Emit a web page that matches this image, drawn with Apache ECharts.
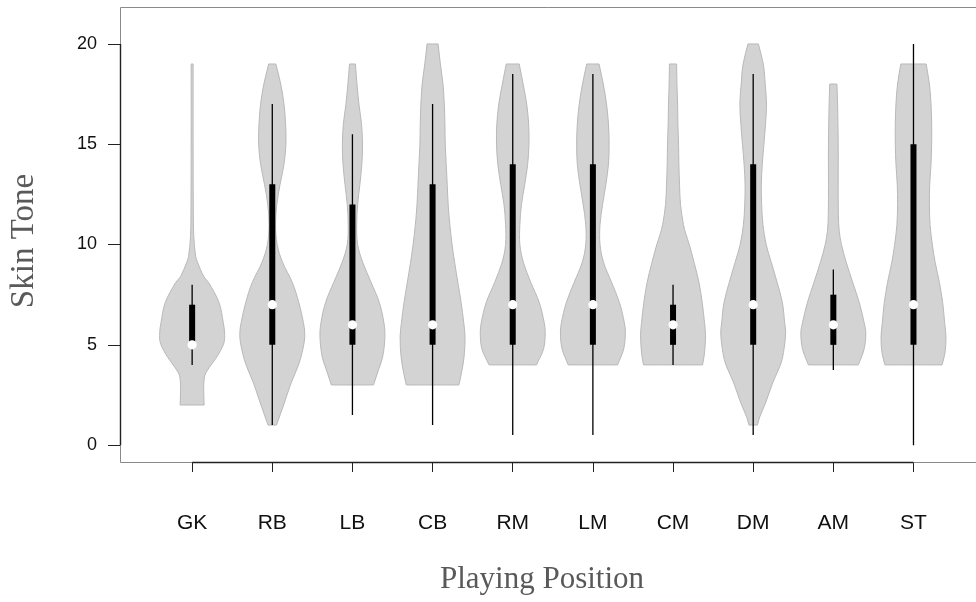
<!DOCTYPE html>
<html>
<head>
<meta charset="utf-8">
<script src="https://cdn.jsdelivr.net/npm/echarts@6/dist/echarts.min.js"></script>
<style>
  html, body { margin: 0; padding: 0; background: #fff; }
  #chart { width: 976px; height: 602px; }
</style>
</head>
<body>
<div id="chart"></div>
<script>
// Playing positions (x categories)
const positions = ["GK", "RB", "LB", "CB", "RM", "LM", "CM", "DM", "AM", "ST"];

// Box statistics per position
const lowerQuartile = [5, 5, 5, 5, 5, 5, 5, 5, 5, 5];
const upperQuartile = [7, 13, 12, 13, 14, 14, 7, 14, 7.5, 15];
const medians = [5, 7, 6, 6, 7, 7, 6, 7, 6, 7];
const whiskerLow = [4, 1, 1.5, 1, 0.5, 0.5, 4, 0.5, 3.75, 0];
const whiskerHigh = [8, 17, 15.5, 17, 18.5, 18.5, 8, 18.5, 8.75, 20];

// Violin outlines: skin tone levels and relative density (max = 1)
const violinLevels = [
    [2, 2.8, 3.3, 3.6, 4.1, 4.5, 5.1, 5.6, 6.1, 7.1, 8.1, 8.4, 9.1, 9.4, 10.4, 12, 15, 19],
    [1, 2.1, 3.1, 4.1, 5.1, 5.6, 6.1, 7.1, 8.1, 9.1, 10, 11, 12, 13, 14, 15, 16, 17, 18, 19],
    [3, 3.6, 4.4, 5.4, 6.1, 7.1, 8.1, 9.1, 10, 11, 12, 13, 14, 15, 16, 17, 18, 19],
    [3, 3.6, 4.4, 5.4, 6.1, 7.1, 8.1, 9.1, 10, 11, 12, 13, 14, 15, 16, 17, 18, 19, 20],
    [4, 4.8, 5.6, 6.1, 7.1, 8.1, 9.1, 10, 11, 12, 13, 14, 15, 16, 17, 18, 19],
    [4, 4.8, 5.6, 6.1, 7.1, 8.1, 9.1, 10, 11, 12, 13, 14, 15, 16, 17, 18, 19],
    [4, 4.6, 5.5, 6.1, 7.1, 8.1, 9.1, 10, 10.5, 11, 12, 13, 14, 15, 16, 17, 18, 19],
    [1, 1.4, 2.1, 3.1, 4.1, 4.8, 5.6, 6.1, 7.1, 8.1, 9.1, 10, 11, 12, 13, 14, 15, 16, 17, 18, 19, 20],
    [4, 4.8, 5.6, 6.1, 7.1, 8.1, 9.1, 10, 10.7, 11.5, 13, 15, 17, 18],
    [4, 4.6, 5.4, 6.1, 7.1, 8.1, 9.1, 10, 11, 12, 13, 14, 15, 16, 17, 18, 19]
];
const violinDensity = [
    [0.37, 0.355, 0.37, 0.42, 0.63, 0.8, 0.98, 1.0, 0.96, 0.83, 0.51, 0.36, 0.17, 0.11, 0.05, 0.035, 0.03, 0.03],
    [0.13, 0.37, 0.58, 0.83, 0.98, 1.0, 0.96, 0.82, 0.62, 0.32, 0.15, 0.1, 0.14, 0.24, 0.36, 0.42, 0.41, 0.36, 0.26, 0.11],
    [0.65, 0.77, 0.93, 1.0, 0.97, 0.83, 0.58, 0.32, 0.16, 0.13, 0.16, 0.23, 0.29, 0.31, 0.28, 0.2, 0.14, 0.09],
    [0.81, 0.89, 0.97, 1.0, 0.96, 0.88, 0.78, 0.68, 0.6, 0.53, 0.48, 0.45, 0.42, 0.39, 0.38, 0.36, 0.32, 0.24, 0.17],
    [0.73, 0.95, 1.0, 0.97, 0.82, 0.56, 0.33, 0.22, 0.22, 0.27, 0.37, 0.46, 0.5, 0.49, 0.43, 0.32, 0.2],
    [0.76, 0.95, 1.0, 0.97, 0.82, 0.58, 0.33, 0.22, 0.22, 0.3, 0.4, 0.48, 0.5, 0.48, 0.42, 0.32, 0.19],
    [0.91, 0.97, 1.0, 0.97, 0.9, 0.8, 0.65, 0.5, 0.4, 0.32, 0.23, 0.2, 0.18, 0.17, 0.15, 0.14, 0.12, 0.11],
    [0.13, 0.2, 0.38, 0.6, 0.86, 0.95, 1.0, 0.97, 0.9, 0.74, 0.56, 0.4, 0.3, 0.26, 0.25, 0.28, 0.33, 0.38, 0.41, 0.37, 0.31, 0.16],
    [0.77, 0.95, 1.0, 0.95, 0.8, 0.6, 0.4, 0.25, 0.18, 0.155, 0.15, 0.15, 0.13, 0.11],
    [0.88, 0.97, 1.0, 0.96, 0.9, 0.8, 0.67, 0.58, 0.51, 0.49, 0.5, 0.54, 0.56, 0.56, 0.54, 0.49, 0.39]
];

// Axis ticks
const xTicks = [1, 2, 3, 4, 5, 6, 7, 8, 9, 10];
const yTicks = [0, 5, 10, 15, 20];

// plot region; the frame runs past the right edge of the picture
const X_MIN = 0.1, X_MAX = 10.78;
const Y_MIN = -0.84, Y_MAX = 21.84;
const violinHalfWidth = 0.405; // category units at density 1
const boxWidth = 6;

const chart = echarts.init(document.getElementById("chart"), null, { renderer: "canvas" });

function crisp(v) {
    return Math.round(v) + 0.5;
}

function renderViolin(params, api) {
    const i = params.dataIndex;
    const x = api.value(0);
    const ys = violinLevels[i];
    const ds = violinDensity[i];
    const right = ys.map((y, k) => api.coord([x + ds[k] * violinHalfWidth, y]));
    const left = ys.map((y, k) => api.coord([x - ds[k] * violinHalfWidth, y])).reverse();
    // duplicated end points keep the flat ends sharp when smoothing
    const pts = [right[0]].concat(right, [right[right.length - 1], left[0]], left, [left[left.length - 1]]);

    const wLo = api.coord([x, whiskerLow[i]]);
    const wHi = api.coord([x, whiskerHigh[i]]);
    const qHi = api.coord([x, upperQuartile[i]]);
    const qLo = api.coord([x, lowerQuartile[i]]);
    const med = api.coord([x, medians[i]]);

    return {
        type: "group",
        children: [
            {
                type: "polygon",
                shape: { points: pts, smooth: 0.35 },
                style: { fill: "#d3d3d3", stroke: "#b9b9b9", lineWidth: 1 }
            },
            {
                type: "line",
                shape: { x1: wLo[0], y1: wLo[1], x2: wHi[0], y2: wHi[1] },
                style: { stroke: "#000", lineWidth: 1.3 }
            },
            {
                type: "rect",
                shape: { x: qHi[0] - boxWidth / 2, y: qHi[1], width: boxWidth, height: qLo[1] - qHi[1] },
                style: { fill: "#000" }
            },
            {
                type: "circle",
                shape: { cx: med[0], cy: med[1], r: 4.6 },
                style: { fill: "#fff" }
            }
        ]
    };
}

function renderFrame(params, api) {
    const tl = api.coord([X_MIN, Y_MAX]);
    const bl = api.coord([X_MIN, Y_MIN]);
    const br = api.coord([X_MAX, Y_MIN]);
    const l0 = api.coord([X_MIN, yTicks[0]]);
    const l1 = api.coord([X_MIN, yTicks[yTicks.length - 1]]);
    const b0 = api.coord([xTicks[0], Y_MIN]);
    const b1 = api.coord([xTicks[xTicks.length - 1], Y_MIN]);
    const left = crisp(tl[0]), top = crisp(tl[1]), bottom = crisp(bl[1]);
    const light = { stroke: "#8a8a8a", lineWidth: 1 };
    const dark = { stroke: "#222", lineWidth: 1.4 };
    return {
        type: "group",
        children: [
            { type: "line", shape: { x1: left, y1: top, x2: br[0] + 5, y2: top }, style: light },
            { type: "line", shape: { x1: left, y1: top, x2: left, y2: bottom }, style: light },
            { type: "line", shape: { x1: left, y1: bottom, x2: br[0] + 5, y2: bottom }, style: light },
            { type: "line", shape: { x1: left, y1: l0[1], x2: left, y2: l1[1] }, style: dark },
            { type: "line", shape: { x1: b0[0], y1: bottom, x2: b1[0], y2: bottom }, style: dark }
        ]
    };
}

const option = {
    animation: false,
    backgroundColor: "#fff",
    grid: {
        left: 120, top: 7, right: 0, bottom: 140,
        containLabel: false,
        show: false
    },
    xAxis: {
        type: "value",
        min: X_MIN, max: X_MAX,
        splitLine: { show: false },
        axisLine: { show: false, onZero: false },
        axisTick: { show: true, customValues: xTicks, length: 10, lineStyle: { color: "#222", width: 1 } },
        axisLabel: {
            customValues: xTicks,
            margin: 51,
            fontFamily: "Liberation Sans",
            fontSize: 21,
            color: "#111",
            formatter: (v) => positions[Math.round(v) - 1] || ""
        }
    },
    yAxis: {
        type: "value",
        min: Y_MIN, max: Y_MAX,
        splitLine: { show: false },
        axisLine: { show: false, onZero: false },
        axisTick: { show: true, customValues: yTicks, length: 12, lineStyle: { color: "#222", width: 1 } },
        axisLabel: {
            customValues: yTicks,
            margin: 23,
            fontFamily: "Liberation Sans",
            fontSize: 18,
            color: "#111"
        }
    },
    graphic: [
        {
            type: "text",
            x: 542, y: 580,
            style: {
                text: "Playing Position",
                font: '31px "Liberation Serif"',
                fill: "#595959",
                align: "center",
                verticalAlign: "middle"
            }
        },
        {
            type: "text",
            x: 24, y: 241,
            rotation: Math.PI / 2,
            style: {
                text: "Skin Tone",
                font: '33px "Liberation Serif"',
                fill: "#595959",
                align: "center",
                verticalAlign: "middle"
            }
        }
    ],
    series: [
        {
            type: "custom",
            name: "frame",
            renderItem: renderFrame,
            data: [[X_MIN, Y_MIN]],
            silent: true,
            z: 3
        },
        {
            type: "custom",
            name: "Skin Tone",
            renderItem: renderViolin,
            data: positions.map((p, i) => [xTicks[i], medians[i]]),
            z: 2
        }
    ]
};

chart.setOption(option);
</script>
</body>
</html>
